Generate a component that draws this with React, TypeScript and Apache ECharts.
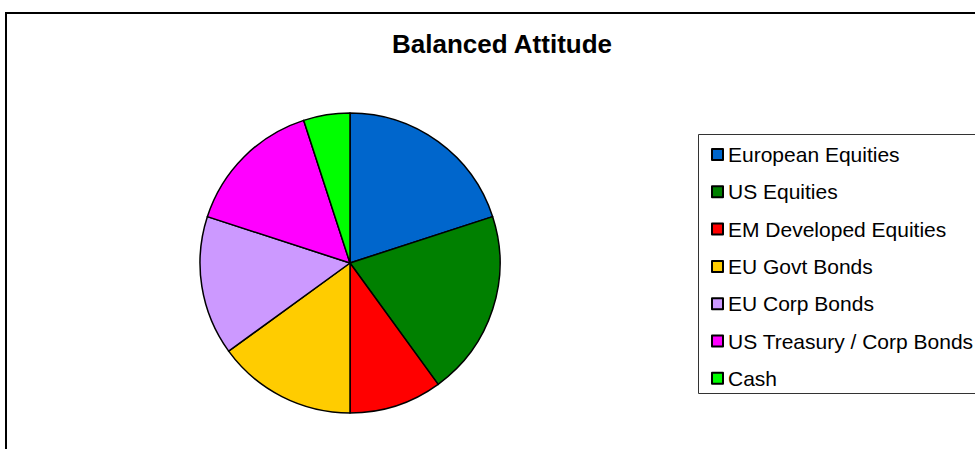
import React, { useEffect, useRef } from "react";
import * as echarts from "echarts";

const categories = [
  "European Equities",
  "US Equities",
  "EM Developed Equities",
  "EU Govt Bonds",
  "EU Corp Bonds",
  "US Treasury / Corp Bonds",
  "Cash",
];
const weights = [20, 20, 10, 15, 15, 15, 5];
const colors = ["#0066CC", "#008000", "#FF0000", "#FFCC00", "#CC99FF", "#FF00FF", "#00FF00"];

const FONT = "'Liberation Sans', Arial, sans-serif";

export default function App() {
  const ref = useRef<HTMLDivElement>(null);

  useEffect(() => {
    if (!ref.current) return;
    const chart = echarts.init(ref.current, undefined, { renderer: "svg" });
    chart.setOption({
      animation: false,
      backgroundColor: "#ffffff",
      title: {
        text: "Balanced Attitude",
        left: 497,
        top: 26,
        textAlign: "center",
        textStyle: { fontFamily: FONT, fontSize: 26, fontWeight: "bold", color: "#000" },
      },
      graphic: [
        {
          type: "rect",
          shape: { x: 6, y: 13, width: 1200, height: 600 },
          style: { fill: "none", stroke: "#000", lineWidth: 2 },
          silent: true,
        },
        {
          type: "rect",
          shape: { x: 698.5, y: 134.5, width: 400, height: 259 },
          style: { fill: "#fff", stroke: "#333", lineWidth: 1 },
          silent: true,
          z: -1,
        },
      ],
      legend: {
        orient: "vertical",
        left: 706,
        top: 139,
        itemWidth: 11,
        itemHeight: 11,
        itemGap: 16.3,
        icon: "rect",
        selectedMode: false,
        data: categories,
        textStyle: { fontFamily: FONT, fontSize: 21, color: "#000" },
      },
      series: [
        {
          type: "pie",
          center: [350, 263],
          radius: 150,
          startAngle: 90,
          clockwise: true,
          label: { show: false },
          labelLine: { show: false },
          emphasis: { disabled: true },
          itemStyle: { borderColor: "#000", borderWidth: 1.5 },
          data: categories.map((name, i) => ({
            name,
            value: weights[i],
            itemStyle: { color: colors[i] },
          })),
        },
      ],
    });
    return () => chart.dispose();
  }, []);

  return (
    <div
      ref={ref}
      style={{ position: "absolute", left: 0, top: 0, width: 975, height: 449 }}
    />
  );
}
